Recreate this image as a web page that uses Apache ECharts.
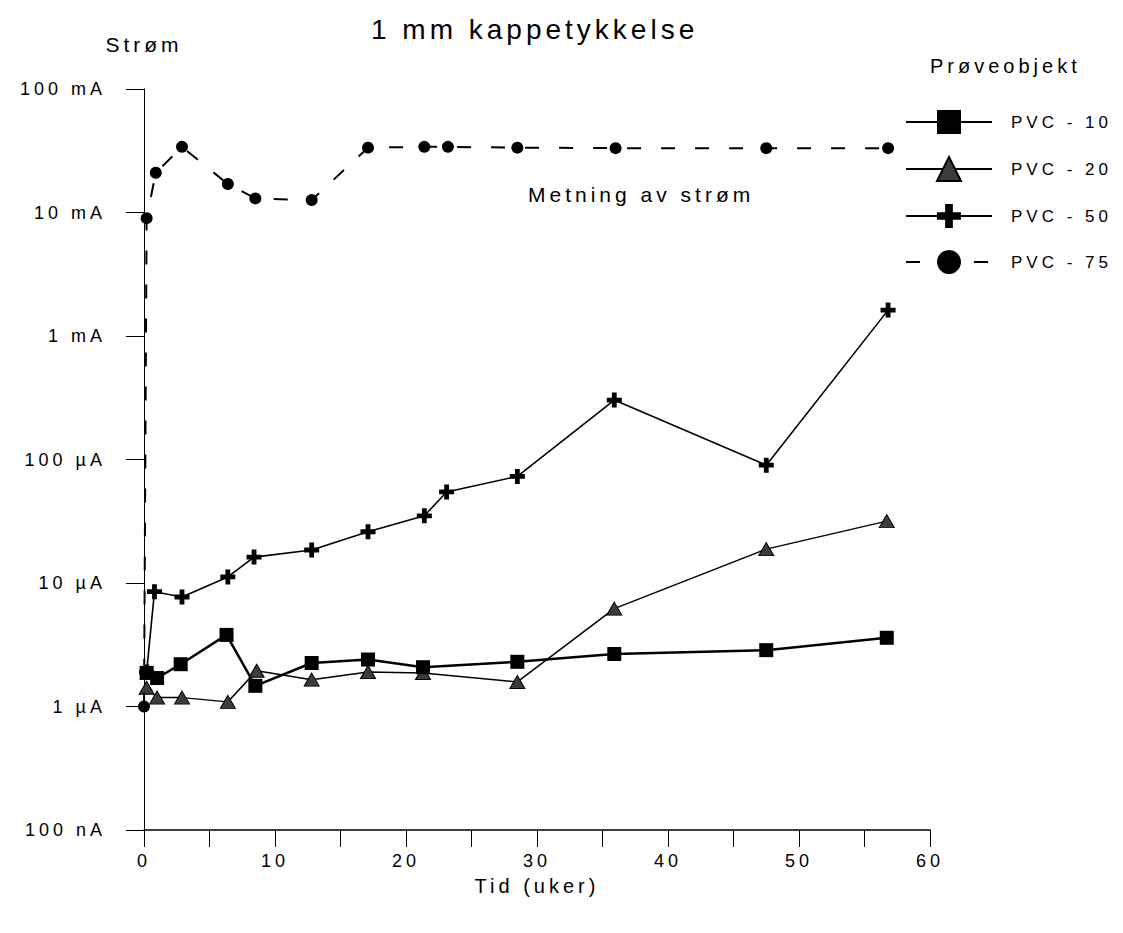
<!DOCTYPE html>
<html>
<head>
<meta charset="utf-8">
<script src="https://cdn.jsdelivr.net/npm/echarts@6/dist/echarts.min.js"></script>
<style>
  html, body { margin: 0; padding: 0; background: #fff; }
  #chart { width: 1123px; height: 933px; }
  /* wide tracking on every label */
  #chart text { letter-spacing: 4px; }
</style>
</head>
<body>
<div id="chart"></div>
<script>
// Time in weeks, current in µA
const weeks10 = [0.2, 1.0, 2.8, 6.3, 8.5, 12.8, 17.1, 21.3, 28.5, 35.9, 47.5, 56.7];
const pvc10   = [1.87, 1.7, 2.2, 3.8, 1.47, 2.25, 2.4, 2.08, 2.3, 2.66, 2.86, 3.6];

const weeks20 = [0.2, 1.0, 2.9, 6.4, 8.6, 12.8, 17.1, 21.3, 28.5, 35.9, 47.5, 56.7];
const pvc20   = [1.42, 1.18, 1.18, 1.09, 1.95, 1.65, 1.9, 1.87, 1.58, 6.2, 18.8, 31.7];

const weeks50 = [0.2, 0.8, 2.9, 6.4, 8.4, 12.8, 17.1, 21.4, 23.1, 28.5, 35.9, 47.5, 56.8];
const pvc50   = [1.9, 8.5, 7.7, 11.2, 16.2, 18.5, 26, 35, 54.6, 73, 303, 90, 1620];

const weeks75 = [0, 0.2, 0.9, 2.9, 6.4, 8.5, 12.8, 17.1, 21.4, 23.2, 28.5, 36.0, 47.5, 56.8];
const pvc75   = [1.0, 9000, 21000, 34000, 17000, 13000, 12600, 33500, 34000, 34000, 33500, 33200, 33200, 33200];

const seriesNames = ['PVC - 10', 'PVC - 20', 'PVC - 50', 'PVC - 75'];
// one label per decade, from 100 nA (0.1 µA) up to 100 mA
const yTickLabels = ['100 nA', '1 µA', '10 µA', '100 µA', '1 mA', '10 mA', '100 mA'];

const FONT = '"Liberation Sans", Arial, Helvetica, sans-serif';
const pairs = (xs, ys) => xs.map((x, i) => [x, ys[i]]);
const plusPath = 'path://M0,3.4H3.4V0H6.6V3.4H10V6.6H6.6V10H3.4V6.6H0Z';

const chart = echarts.init(document.getElementById('chart'), null, { renderer: 'svg' });

chart.setOption({
  animation: false,
  backgroundColor: '#fff',
  textStyle: { fontFamily: FONT, color: '#000' },
  title: {
    text: '1 mm kappetykkelse',
    left: 366,
    top: 10,
    textStyle: { fontFamily: FONT, fontSize: 28, fontWeight: 'normal', color: '#000' }
  },
  grid: { left: 144, right: 193, top: 89, bottom: 103, containLabel: false, outerBoundsMode: 'none' },
  legend: {
    orient: 'vertical',
    left: 900,
    top: 105,
    itemWidth: 86,
    itemHeight: 30,
    itemGap: 22,
    data: seriesNames,
    textStyle: { fontFamily: FONT, fontSize: 17, color: '#000', padding: [0, 0, 0, 14] }
  },
  graphic: [
    { type: 'text', left: 930, top: 56,
      style: { text: 'Prøveobjekt', fontFamily: FONT, fontSize: 20, fill: '#000' } },
    { type: 'text', left: 528, top: 184,
      style: { text: 'Metning av strøm', fontFamily: FONT, fontSize: 21, fill: '#000' } }
  ],
  xAxis: {
    type: 'value',
    min: 0, max: 60, interval: 10,
    name: 'Tid (uker)',
    nameLocation: 'middle',
    nameGap: 46,
    nameTextStyle: { fontFamily: FONT, fontSize: 20, color: '#000' },
    axisLine: { show: true, onZero: false, lineStyle: { color: '#000', width: 1.5 } },
    axisTick: { show: true, inside: false, length: 17, lineStyle: { color: '#000', width: 1 } },
    minorTick: { show: true, splitNumber: 2, length: 17, lineStyle: { color: '#000', width: 1 } },
    splitLine: { show: false },
    minorSplitLine: { show: false },
    axisLabel: { fontFamily: FONT, fontSize: 18, color: '#000', margin: 22 }
  },
  yAxis: {
    type: 'log',
    logBase: 10,
    min: 0.1, max: 100000, interval: 1,
    name: 'Strøm',
    nameLocation: 'end',
    nameGap: 34,
    nameTextStyle: { fontFamily: FONT, fontSize: 21, color: '#000', align: 'center' },
    axisLine: { show: true, onZero: false, lineStyle: { color: '#000', width: 1 } },
    axisTick: { show: true, inside: false, length: 18, lineStyle: { color: '#000', width: 1 } },
    splitLine: { show: false },
    axisLabel: {
      fontFamily: FONT, fontSize: 18, color: '#000', margin: 38,
      formatter: v => yTickLabels[Math.round(Math.log10(v)) + 1]
    }
  },
  series: [
    {
      name: seriesNames[0], type: 'line', data: pairs(weeks10, pvc10),
      symbol: 'rect', symbolSize: 14,
      itemStyle: { color: '#000' },
      lineStyle: { color: '#000', width: 2.5 },
      z: 4
    },
    {
      name: seriesNames[1], type: 'line', data: pairs(weeks20, pvc20),
      symbol: 'triangle', symbolSize: [15, 13],
      itemStyle: { color: '#3c3c3c', borderColor: '#000', borderWidth: 1 },
      lineStyle: { color: '#000', width: 1.5 },
      z: 3
    },
    {
      name: seriesNames[2], type: 'line', data: pairs(weeks50, pvc50),
      symbol: plusPath, symbolSize: 15,
      itemStyle: { color: '#000' },
      lineStyle: { color: '#000', width: 1.6 },
      z: 3
    },
    {
      name: seriesNames[3], type: 'line', data: pairs(weeks75, pvc75),
      symbol: 'circle', symbolSize: 12,
      itemStyle: { color: '#000' },
      lineStyle: { color: '#000', width: 2, type: [14, 20] },
      z: 5
    }
  ]
});
</script>
</body>
</html>
